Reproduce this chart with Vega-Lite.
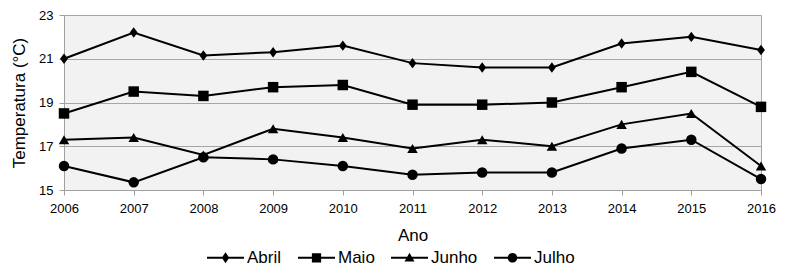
{
  "$schema": "https://vega.github.io/schema/vega-lite/v6.json",
  "autosize": "none",
  "width": 697,
  "height": 175,
  "padding": {"left": 64, "top": 15, "right": 29, "bottom": 90},
  "background": "white",
  "config": {
    "font": "Liberation Sans",
    "view": {"fill": "#f2f2f2", "stroke": "#a6a6a6", "strokeWidth": 1},
    "axis": {
      "domainColor": "#a0a0a0",
      "tickColor": "#a0a0a0",
      "gridColor": "#a6a6a6",
      "labelColor": "#000000",
      "titleColor": "#000000",
      "labelFont": "Liberation Sans",
      "titleFont": "Liberation Sans",
      "labelFontSize": 13,
      "titleFontSize": 17,
      "titleFontWeight": "normal",
      "tickSize": 5
    },
    "legend": {"labelFont": "Liberation Sans", "labelFontSize": 17, "labelColor": "#000000"}
  },
  "data": {
    "values": [
      {"ano": 2006, "mes": "Abril", "temp": 21.0},
      {"ano": 2007, "mes": "Abril", "temp": 22.2},
      {"ano": 2008, "mes": "Abril", "temp": 21.15},
      {"ano": 2009, "mes": "Abril", "temp": 21.3},
      {"ano": 2010, "mes": "Abril", "temp": 21.6},
      {"ano": 2011, "mes": "Abril", "temp": 20.8},
      {"ano": 2012, "mes": "Abril", "temp": 20.6},
      {"ano": 2013, "mes": "Abril", "temp": 20.6},
      {"ano": 2014, "mes": "Abril", "temp": 21.7},
      {"ano": 2015, "mes": "Abril", "temp": 22.0},
      {"ano": 2016, "mes": "Abril", "temp": 21.4},
      {"ano": 2006, "mes": "Maio", "temp": 18.5},
      {"ano": 2007, "mes": "Maio", "temp": 19.5},
      {"ano": 2008, "mes": "Maio", "temp": 19.3},
      {"ano": 2009, "mes": "Maio", "temp": 19.7},
      {"ano": 2010, "mes": "Maio", "temp": 19.8},
      {"ano": 2011, "mes": "Maio", "temp": 18.9},
      {"ano": 2012, "mes": "Maio", "temp": 18.9},
      {"ano": 2013, "mes": "Maio", "temp": 19.0},
      {"ano": 2014, "mes": "Maio", "temp": 19.7},
      {"ano": 2015, "mes": "Maio", "temp": 20.4},
      {"ano": 2016, "mes": "Maio", "temp": 18.8},
      {"ano": 2006, "mes": "Junho", "temp": 17.3},
      {"ano": 2007, "mes": "Junho", "temp": 17.4},
      {"ano": 2008, "mes": "Junho", "temp": 16.6},
      {"ano": 2009, "mes": "Junho", "temp": 17.8},
      {"ano": 2010, "mes": "Junho", "temp": 17.4},
      {"ano": 2011, "mes": "Junho", "temp": 16.9},
      {"ano": 2012, "mes": "Junho", "temp": 17.3},
      {"ano": 2013, "mes": "Junho", "temp": 17.0},
      {"ano": 2014, "mes": "Junho", "temp": 18.0},
      {"ano": 2015, "mes": "Junho", "temp": 18.5},
      {"ano": 2016, "mes": "Junho", "temp": 16.1},
      {"ano": 2006, "mes": "Julho", "temp": 16.1},
      {"ano": 2007, "mes": "Julho", "temp": 15.35},
      {"ano": 2008, "mes": "Julho", "temp": 16.5},
      {"ano": 2009, "mes": "Julho", "temp": 16.4},
      {"ano": 2010, "mes": "Julho", "temp": 16.1},
      {"ano": 2011, "mes": "Julho", "temp": 15.7},
      {"ano": 2012, "mes": "Julho", "temp": 15.8},
      {"ano": 2013, "mes": "Julho", "temp": 15.8},
      {"ano": 2014, "mes": "Julho", "temp": 16.9},
      {"ano": 2015, "mes": "Julho", "temp": 17.3},
      {"ano": 2016, "mes": "Julho", "temp": 15.5}
    ]
  },
  "encoding": {
    "x": {
      "field": "ano", "type": "quantitative",
      "scale": {"domain": [2006, 2016], "nice": false, "zero": false},
      "axis": {"title": "Ano", "values": [2006,2007,2008,2009,2010,2011,2012,2013,2014,2015,2016], "format": "d", "grid": false, "labelFlush": false, "labelOverlap": false, "labelPadding": 7, "titlePadding": 12}
    },
    "y": {
      "field": "temp", "type": "quantitative",
      "scale": {"domain": [15, 23], "nice": false, "zero": false},
      "axis": {"title": "Temperatura (°C)", "values": [15,17,19,21,23], "grid": true, "labelFlush": false, "labelPadding": 6, "titlePadding": 10}
    }
  },
  "layer": [
    {
      "mark": {"type": "line", "color": "black", "strokeWidth": 2},
      "encoding": {"detail": {"field": "mes"}}
    },
    {
      "mark": {"type": "point", "filled": true, "color": "black", "opacity": 1},
      "encoding": {
        "shape": {
          "field": "mes",
          "scale": {"domain": ["Abril", "Maio", "Junho", "Julho"], "range": ["M0,-1L0.75,0L0,1L-0.75,0Z", "square", "triangle-up", "circle"]},
          "legend": null
        },
        "size": {"value": 110}
      }
    },
    {
      "mark": {"type": "point", "filled": true, "color": "black", "opacity": 0},
      "encoding": {
        "shape": {
          "field": "mes",
          "scale": {"domain": ["Abril", "Maio", "Junho", "Julho"], "range": [
            "M-1,-0.055H1V0.055H-1Z M0,-0.3L0.2,0L0,0.3L-0.2,0Z",
            "M-1,-0.055H1V0.055H-1Z M-0.25,-0.25H0.25V0.25H-0.25Z",
            "M-1,-0.055H1V0.055H-1Z M0,-0.27L0.27,0.2H-0.27Z",
            "M-1,-0.055H1V0.055H-1Z M0,-0.26A0.26,0.26 0 1,1 0,0.26A0.26,0.26 0 1,1 0,-0.26Z"
          ]},
          "legend": {"title": null, "orient": "none", "direction": "horizontal", "legendX": 143, "legendY": 224, "symbolSize": 1369, "symbolOpacity": 1, "symbolFillColor": "black", "symbolStrokeWidth": 0, "labelOffset": 3, "columnPadding": 16}
        }
      }
    }
  ],
  "resolve": {"scale": {"shape": "independent"}}
}
